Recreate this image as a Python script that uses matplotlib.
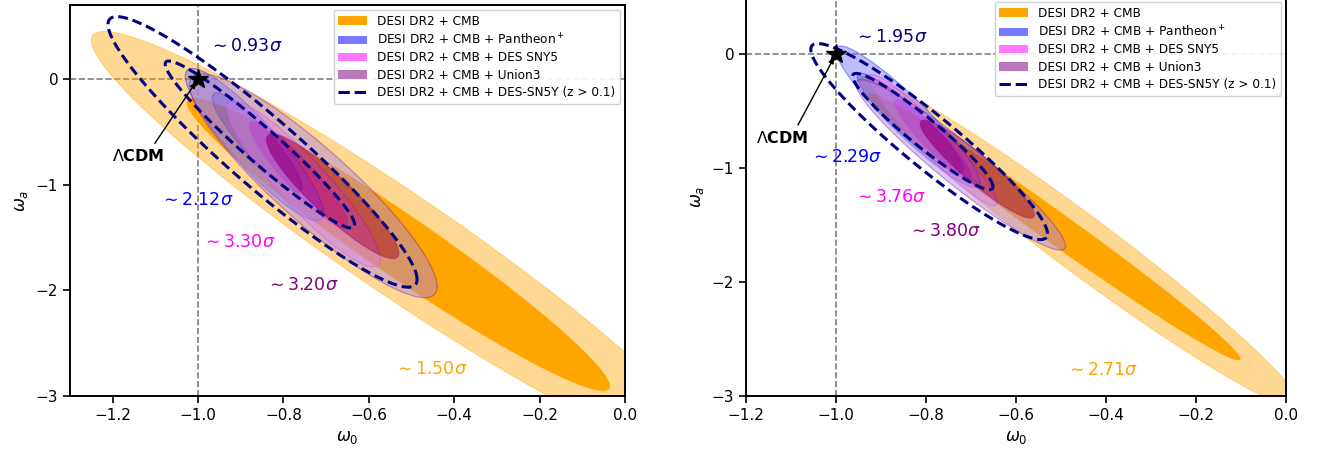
import numpy as np
import matplotlib
matplotlib.use("Agg")
import matplotlib.pyplot as plt
from matplotlib.patches import Patch, PathPatch
from matplotlib.path import Path
from matplotlib.lines import Line2D

# ---------------- data ----------------
series_labels = ["DESI DR2 + CMB", "DESI DR2 + CMB + Pantheon$^+$",
                 "DESI DR2 + CMB + DES SNY5", "DESI DR2 + CMB + Union3",
                 "DESI DR2 + CMB + DES-SN5Y (z > 0.1)"]
series_colors = ["#FFA500", "#0000FF", "#FF00FF", "#800080", "#000080"]
legend_colors = ["#FFA500", "#7777FF", "#FF77FF", "#BB77BB", "#000080"]
# fill colours: (outer 2-sigma band, inner 1-sigma region)
outer_fill = ["#FFA500", "#6E6EFF", "#FF6EFF", "#AA82E6"]
outer_alpha = [0.42, 0.45, 0.38, 0.45]
inner_fill = ["#FFA500", "#0000FF", "#FF00FF", "#800080"]
inner_alpha = [1.0, 0.42, 0.42, 0.5]

# order: orange 2s, orange 1s, P+ 2s, P+ 1s, DES 2s, DES 1s, U3 2s, U3 1s, DESz 2s, DESz 1s

# left panel: centre (w0, wa), half-extent in w0, half-extent in wa, correlation
left_cx = [-0.53, -0.531, -0.868, -0.862, -0.753, -0.765, -0.73, -0.685, -0.849, -0.855]
left_cy = [-1.56, -1.565, -0.62, -0.60, -0.995, -0.905, -1.01, -1.11, -0.69, -0.62]
left_sx = [0.72, 0.495, 0.162, 0.105, 0.18, 0.115, 0.29, 0.155, 0.362, 0.222]
left_sy = [2.01, 1.385, 0.72, 0.47, 0.785, 0.505, 1.06, 0.59, 1.28, 0.79]
left_rho = [-0.958, -0.968, -0.90, -0.90, -0.91, -0.92, -0.90, -0.91, -0.942, -0.963]

# right panel
right_cx = [-0.46, -0.515, -0.84, -0.835, -0.785, -0.785, -0.723, -0.686, -0.793, -0.807]
right_cy = [-1.65, -1.515, -0.55, -0.605, -0.755, -0.75, -0.973, -1.01, -0.768, -0.68]
right_sx = [0.49, 0.413, 0.16, 0.118, 0.143, 0.085, 0.233, 0.127, 0.263, 0.156]
right_sy = [1.45, 1.17, 0.62, 0.435, 0.575, 0.35, 0.747, 0.43, 0.86, 0.51]
right_rho = [-0.977, -0.99, -0.935, -0.93, -0.95, -0.93, -0.95, -0.93, -0.94, -0.95]

# tension labels: text, x, y, series index
left_sig_text = [r"$\sim 0.93\sigma$", r"$\sim 2.12\sigma$", r"$\sim 3.30\sigma$",
                 r"$\sim 3.20\sigma$", r"$\sim 1.50\sigma$"]
left_sig_x = [-0.975, -1.09, -0.99, -0.84, -0.541]
left_sig_y = [0.31, -1.146, -1.545, -1.945, -2.74]
left_sig_series = [4, 1, 2, 3, 0]

right_sig_text = [r"$\sim 1.95\sigma$", r"$\sim 2.29\sigma$", r"$\sim 3.76\sigma$",
                  r"$\sim 3.80\sigma$", r"$\sim 2.71\sigma$"]
right_sig_x = [-0.959, -1.057, -0.959, -0.839, -0.49]
right_sig_y = [0.147, -0.90, -1.252, -1.551, -2.77]
right_sig_series = [4, 1, 2, 3, 0]

lcdm_point = (-1.0, 0.0)
left_lcdm_text = (-1.14, -0.733)
right_lcdm_text = (-1.12, -0.74)

left_xlim, left_ylim = (-1.3, 0.0), (-3.0, 0.7)
right_xlim, right_ylim = (-1.2, 0.0), (-3.0, 0.5)
left_xticks = [-1.2, -1.0, -0.8, -0.6, -0.4, -0.2, 0.0]
right_xticks = [-1.2, -1.0, -0.8, -0.6, -0.4, -0.2, 0.0]
yticks = [-3, -2, -1, 0]

# ---------------- helpers ----------------
def ellipse(cx, cy, sx, sy, rho, n=400):
    t = np.linspace(0, 2 * np.pi, n)
    cov = np.array([[sx * sx, rho * sx * sy], [rho * sx * sy, sy * sy]])
    L = np.linalg.cholesky(cov)
    pts = L @ np.vstack([np.cos(t), np.sin(t)])
    return pts[0] + cx, pts[1] + cy


def ring_path(xo, yo, xi, yi):
    vo = np.column_stack([xo, yo])
    vi = np.column_stack([xi, yi])[::-1]
    codes_o = [Path.MOVETO] + [Path.LINETO] * (len(vo) - 2) + [Path.CLOSEPOLY]
    codes_i = [Path.MOVETO] + [Path.LINETO] * (len(vi) - 2) + [Path.CLOSEPOLY]
    return Path(np.vstack([vo, vi]), codes_o + codes_i)


def draw_panel(ax, cx, cy, sx, sy, rho, sig_text, sig_x, sig_y, sig_series,
               lcdm_text, xlim, ylim, xticks):
    ax.axvline(-1.0, color="gray", ls="--", lw=1.2, zorder=1)
    ax.axhline(0.0, color="gray", ls="--", lw=1.2, zorder=1)
    for s in range(5):
        i2, i1 = 2 * s, 2 * s + 1
        xo, yo = ellipse(cx[i2], cy[i2], sx[i2], sy[i2], rho[i2])
        xi, yi = ellipse(cx[i1], cy[i1], sx[i1], sy[i1], rho[i1])
        col = series_colors[s]
        if s == 4:
            for x, y in ((xo, yo), (xi, yi)):
                ax.plot(x, y, color=col, ls=(0, (3.2, 1.6)), lw=2.2, zorder=5)
            continue
        z = 2 + s * 0.1
        if s == 0:
            ax.fill(xo, yo, color=outer_fill[s], alpha=outer_alpha[s], lw=0, zorder=z)
        else:
            ax.add_patch(PathPatch(ring_path(xo, yo, xi, yi), facecolor=outer_fill[s],
                                   alpha=outer_alpha[s], lw=0, zorder=z))
        ax.fill(xi, yi, color=inner_fill[s], alpha=inner_alpha[s], lw=0, zorder=z)
        ax.plot(xo, yo, color=col, alpha=0.35, lw=0.9, zorder=z)
        ax.plot(xi, yi, color=col, alpha=0.35, lw=0.9, zorder=z)
    ax.plot([lcdm_point[0]], [lcdm_point[1]], marker="*", color="black",
            markersize=15, zorder=7)
    ax.annotate(r"$\Lambda$CDM", xy=lcdm_point, xytext=lcdm_text,
                fontsize=11.5, fontweight="bold", ha="center", va="center",
                arrowprops=dict(arrowstyle="-|>", color="black", lw=1.0,
                                shrinkA=2, shrinkB=3, mutation_scale=8,
                                relpos=(0.75, 1.0)),
                zorder=8)
    for t, x, y, s in zip(sig_text, sig_x, sig_y, sig_series):
        ax.text(x, y, t, color=series_colors[s], fontsize=12.5,
                ha="left", va="center", zorder=8)
    ax.set_xlim(*xlim)
    ax.set_ylim(*ylim)
    ax.set_xticks(xticks)
    ax.set_yticks(yticks)
    ax.set_xlabel(r"$\omega_0$", fontsize=12)
    ax.set_ylabel(r"$\omega_a$", fontsize=12)
    ax.tick_params(labelsize=11, width=1.2, length=5)
    for sp in ax.spines.values():
        sp.set_linewidth(1.4)
    handles = [Patch(facecolor=c, edgecolor="none") for c in legend_colors[:4]]
    handles.append(Line2D([0], [0], color=legend_colors[4], ls="--", lw=2.2))
    leg = ax.legend(handles, series_labels, loc="upper right", fontsize=8.7,
                    framealpha=0.9, borderaxespad=0.4, handlelength=2.4,
                    labelspacing=0.35)
    leg.set_zorder(10)


fig = plt.figure(figsize=(13.22, 4.59), dpi=100)
axL = fig.add_axes([70 / 1322, 63 / 459, 555 / 1322, 391 / 459])
axR = fig.add_axes([746 / 1322, 63 / 459, 540 / 1322, 399 / 459])

draw_panel(axL, left_cx, left_cy, left_sx, left_sy, left_rho,
           left_sig_text, left_sig_x, left_sig_y, left_sig_series,
           left_lcdm_text, left_xlim, left_ylim, left_xticks)
draw_panel(axR, right_cx, right_cy, right_sx, right_sy, right_rho,
           right_sig_text, right_sig_x, right_sig_y, right_sig_series,
           right_lcdm_text, right_xlim, right_ylim, right_xticks)

fig.savefig("out.png", dpi=100)
